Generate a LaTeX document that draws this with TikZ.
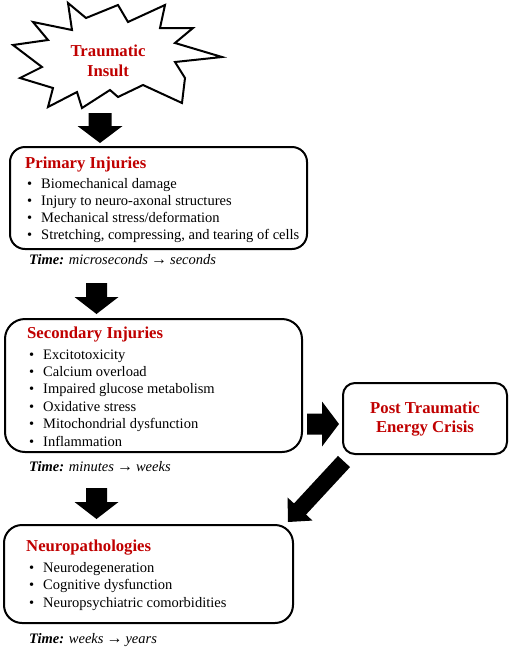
\documentclass[tikz,border=0pt]{standalone}
\usepackage{fontspec}
\setmainfont{Liberation Serif}
\usetikzlibrary{calc}
\definecolor{tred}{RGB}{192,0,0}
\tikzset{
  x=1pt, y=-1pt,
  box/.style={draw, line width=2pt, rounded corners=15pt, inner sep=0pt},
  ttl/.style={font=\fontsize{16.7}{20}\selectfont\bfseries, text=tred, inner sep=0pt},
  item/.style={font=\fontsize{14.5}{17}\selectfont, anchor=base west, inner sep=0pt},
  timelbl/.style={font=\fontsize{14.5}{17}\selectfont\itshape, anchor=base west, inner sep=0pt},
}
\newcommand\blockarrow[5]{%
  \coordinate (bah) at ($(#2)!#5!(#1)$);
  \fill ($(#1)!#3!90:(#2)$) -- ($(bah)!#3!90:(#2)$) -- ($(bah)!#4!90:(#2)$) -- (#2)
     -- ($(bah)!#4!-90:(#2)$) -- ($(bah)!#3!-90:(#2)$) -- ($(#1)!#3!-90:(#2)$) -- cycle;
}
\newcommand\bitem[4]{%
  \node[item] (#1b) at (#2,#3) {•};
  \node[item] (#1) at (#2+14,#3) {#4};
}
\newcommand\arr{\hspace{3pt}{\upshape\bfseries\fontsize{16}{17}\selectfont→}\hspace{3pt}}
\begin{document}
\begin{tikzpicture}
\useasboundingbox (0,0) rectangle (510,649);
% starburst
\draw[line width=2pt, line join=miter, fill=white]
  (68,3) -- (86,18) -- (118,5) -- (128,22) -- (165,5) -- (160,28) -- (193,28) -- (175,43)
  -- (222,57) -- (175,62) -- (185,78) -- (182,103) -- (143,85) -- (118,97) -- (110,90)
  -- (82,108) -- (77,92) -- (48,107) -- (53,88) -- (20,78) -- (42,67) -- (13,45)
  -- (48,40) -- (33,22) -- (72,30) -- cycle;
\node[ttl, anchor=base] (star1) at (108,56) {Traumatic};
\node[ttl, anchor=base] (star2) at (108,76) {Insult};

% primary
\node[box, minimum width=297pt, minimum height=102pt] (prim) at (158.5,198) {};
\node[ttl, anchor=base west] (primt) at (25,168) {Primary Injuries};
\bitem{p1}{27}{188}{Biomechanical damage}
\bitem{p2}{27}{205}{Injury to neuro-axonal structures}
\bitem{p3}{27}{222}{Mechanical stress/deformation}
\bitem{p4}{27}{239}{Stretching, compressing, and tearing of cells}
\node[timelbl] (ptime) at (29,264) {\textbf{Time:} microseconds\arr seconds};

% secondary
\node[box, rounded corners=20pt, minimum width=297pt, minimum height=133pt] (sec) at (153.5,385.5) {};
\node[ttl, anchor=base west] (sect) at (27,338) {Secondary Injuries};
\bitem{s1}{29}{359}{Excitotoxicity}
\bitem{s2}{29}{376}{Calcium overload}
\bitem{s3}{29}{393}{Impaired glucose metabolism}
\bitem{s4}{29}{411}{Oxidative stress}
\bitem{s5}{29}{428}{Mitochondrial dysfunction}
\bitem{s6}{29}{446}{Inflammation}
\node[timelbl] (stime) at (29,471) {\textbf{Time:} minutes\arr weeks};

% post traumatic energy crisis
\node[box, rounded corners=12pt, minimum width=164pt, minimum height=71pt] (post) at (425,418.5) {};
\node[ttl, anchor=base] (post1) at (425,413) {Post Traumatic};
\node[ttl, anchor=base] (post2) at (425,432) {Energy Crisis};

% neuropathologies
\node[box, rounded corners=18pt, minimum width=289pt, minimum height=98pt] (neuro) at (148.5,574) {};
\node[ttl, anchor=base west] (neurot) at (26,551) {Neuropathologies};
\bitem{n1}{29}{572}{Neurodegeneration}
\bitem{n2}{29}{589}{Cognitive dysfunction}
\bitem{n3}{29}{607}{Neuropsychiatric comorbidities}
\node[timelbl] (ntime) at (29,643) {\textbf{Time:} weeks\arr years};

% arrows
\coordinate (a1s) at (100,113);
\coordinate (a1e) at ($(prim.north -| 100,0)+(0,-3)$);
\blockarrow{a1s}{a1e}{11.5pt}{22.5pt}{17pt}
\coordinate (a2s) at (96.5,283);
\coordinate (a2e) at ($(sec.north -| 96.5,0)+(0,-4)$);
\blockarrow{a2s}{a2e}{10.5pt}{22pt}{17pt}
\coordinate (a3s) at (96.5,488);
\coordinate (a3e) at ($(neuro.north -| 96.5,0)+(0,-5)$);
\blockarrow{a3s}{a3e}{10.5pt}{22pt}{17pt}
\coordinate (a4s) at (307,424);
\coordinate (a4e) at ($(post.west |- 0,424)+(-3,0)$);
\blockarrow{a4s}{a4e}{10.5pt}{22.5pt}{17pt}
\coordinate (a5s) at (344,461.5);
\coordinate (a5e) at (288,522);
\blockarrow{a5s}{a5e}{8.2pt}{17pt}{17.7pt}
\end{tikzpicture}
\end{document}
